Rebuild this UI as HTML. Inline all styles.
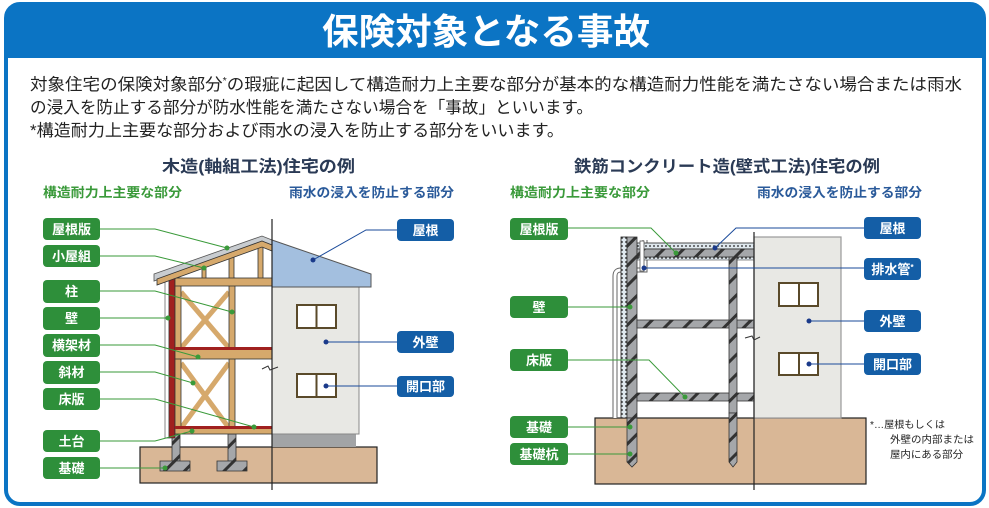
<!DOCTYPE html>
<html><head><meta charset="utf-8"><style>
html,body{margin:0;padding:0;background:#fff}
svg{display:block}
text{font-family:"Liberation Sans","Noto Sans CJK JP",sans-serif}
</style></head><body>
<svg width="989" height="508" viewBox="0 0 989 508" xmlns="http://www.w3.org/2000/svg">
<defs>
<pattern id="hat" width="14" height="14" patternUnits="userSpaceOnUse" patternTransform="rotate(45)">
<rect width="14" height="14" fill="#a5a7aa"/><rect x="0" y="0" width="3" height="14" fill="#333"/></pattern>
<pattern id="ins" width="4" height="4" patternUnits="userSpaceOnUse"><rect width="4" height="4" fill="#dfe8ee"/><circle cx="2" cy="2" r="0.9" fill="#222"/></pattern>
</defs>
<rect x="6" y="4" width="978" height="500" rx="14" fill="#fff" stroke="#0b74c4" stroke-width="4"/>
<path d="M6 58 V18 Q6 4 20 4 H970 Q984 4 984 18 V58 Z" fill="#0b74c4"/>
<text x="322" y="44" font-size="36" font-weight="bold" fill="#fff" textLength="328" lengthAdjust="spacingAndGlyphs">保険対象となる事故</text>
<g font-size="16.5" fill="#222">
<text x="30" y="90" textLength="932" lengthAdjust="spacingAndGlyphs">対象住宅の保険対象部分<tspan font-size="10" dy="-6">*</tspan><tspan dy="6">の瑕疵に起因して構造耐力上主要な部分が基本的な構造耐力性能を満たさない場合または雨水</tspan></text>
<text x="30" y="113" textLength="563" lengthAdjust="spacingAndGlyphs">の浸入を防止する部分が防水性能を満たさない場合を「事故」といいます。</text>
<text x="30" y="136" textLength="534" lengthAdjust="spacingAndGlyphs">*構造耐力上主要な部分および雨水の浸入を防止する部分をいいます。</text>
</g>
<!-- titles -->
<g font-size="16.5" font-weight="bold" fill="#2a3a55">
<text x="162" y="172" textLength="193" lengthAdjust="spacingAndGlyphs">木造(軸組工法)住宅の例</text>
<text x="574" y="172" textLength="306" lengthAdjust="spacingAndGlyphs">鉄筋コンクリート造(壁式工法)住宅の例</text>
</g>
<g font-size="13" font-weight="bold">
<text x="43" y="197" fill="#3a9a3a" textLength="139" lengthAdjust="spacingAndGlyphs">構造耐力上主要な部分</text>
<text x="289" y="197" fill="#2a5a9a" textLength="165" lengthAdjust="spacingAndGlyphs">雨水の浸入を防止する部分</text>
<text x="510" y="197" fill="#3a9a3a" textLength="140" lengthAdjust="spacingAndGlyphs">構造耐力上主要な部分</text>
<text x="757" y="197" fill="#2a5a9a" textLength="165" lengthAdjust="spacingAndGlyphs">雨水の浸入を防止する部分</text>
</g>

<!-- ===== WOOD HOUSE ===== -->
<rect x="140" y="447" width="237" height="36" fill="#d9b796" stroke="#222" stroke-width="1.2"/>
<g fill="url(#hat)" stroke="#333" stroke-width="0.8">
<rect x="172" y="433" width="8" height="28"/><path d="M160 461 H190 V471 H160 Z"/>
<rect x="228" y="433" width="8" height="28"/><path d="M217 461 H247 V471 H217 Z"/>
</g>
<rect x="272" y="434" width="84" height="13" fill="#a2a4a6"/>
<rect x="272" y="286" width="87" height="148" fill="#e8e8e4" stroke="#888" stroke-width="1"/>
<path d="M272 240 L371 274 V287 H272 Z" fill="#a3bfdf" stroke="#555" stroke-width="1"/>
<g fill="#fff" stroke="#5a4a2a" stroke-width="2">
<rect x="297" y="305" width="39" height="23"/><line x1="316.5" y1="305" x2="316.5" y2="328"/>
<rect x="297" y="374" width="39" height="23"/><line x1="316.5" y1="374" x2="316.5" y2="397"/>
</g>
<rect x="165" y="278" width="4" height="160" fill="#fff" stroke="#666" stroke-width="0.8"/>
<rect x="169" y="278" width="6" height="160" fill="#a0201f" stroke="#333" stroke-width="0.6"/>
<g fill="#d6a96c" stroke="#333" stroke-width="0.8">
<line x1="181" y1="292" x2="229" y2="348" stroke="#d6a96c" stroke-width="5"/>
<line x1="229" y1="292" x2="181" y2="348" stroke="#d6a96c" stroke-width="5"/>
<line x1="181" y1="363" x2="229" y2="428" stroke="#d6a96c" stroke-width="5"/>
<line x1="229" y1="363" x2="181" y2="428" stroke="#d6a96c" stroke-width="5"/>
<rect x="175" y="278" width="6" height="156"/>
<rect x="229" y="278" width="6" height="156"/>
<rect x="202" y="262" width="4" height="17"/>
<rect x="258" y="242" width="5" height="37"/>
<rect x="229" y="250" width="5" height="29"/>
<rect x="175" y="278" width="97" height="8"/>
<rect x="175" y="349" width="97" height="10"/>
<rect x="175" y="428" width="97" height="6"/>
</g>
<rect x="175" y="347" width="97" height="3" fill="#a0201f"/>
<rect x="175" y="426" width="97" height="3" fill="#a0201f"/>
<path d="M154 274 L262 236 L272 240 V245 L262 241 L154 281 Z" fill="#c8ccd0" stroke="#555" stroke-width="0.8"/>
<path d="M157 279 L262 241 L272 245 V251 L262 247 L157 285 Z" fill="#d6a96c" stroke="#333" stroke-width="0.8"/>
<line x1="272" y1="219" x2="272" y2="490" stroke="#222" stroke-width="1.2"/>
<path d="M262 369 L268 366 L270 370 L278 367" fill="none" stroke="#333" stroke-width="1"/>

<g stroke="#3a9a3a" stroke-width="1" fill="none">
<polyline points="100,229 155,229 227,248"/>
<polyline points="100,256 155,256 204,268"/>
<polyline points="100,291 155,291 232,312"/>
<polyline points="100,318 168,318"/>
<polyline points="100,345 155,345 198,357"/>
<polyline points="100,372 155,372 193,383"/>
<polyline points="100,399 155,399 254,427"/>
<polyline points="100,441 155,441 192,431"/>
<polyline points="100,468 165,468"/>
</g>
<g fill="#3a9a3a"><circle cx="227" cy="248" r="2.5"/><circle cx="204" cy="268" r="2.5"/><circle cx="232" cy="312" r="2.5"/><circle cx="168" cy="318" r="2.5"/><circle cx="198" cy="357" r="2.5"/><circle cx="193" cy="383" r="2.5"/><circle cx="254" cy="427" r="2.5"/><circle cx="192" cy="431" r="2.5"/><circle cx="165" cy="468" r="2.5"/></g>
<g stroke="#1a4a9a" stroke-width="1" fill="none">
<polyline points="397,230 366,230 313,260"/>
<polyline points="397,342 326,342"/>
<polyline points="397,386 326,386"/>
</g>
<g fill="#1a3a8a"><circle cx="313" cy="260" r="2.5"/><circle cx="326" cy="342" r="2.5"/><circle cx="326" cy="386" r="2.5"/></g>

<!-- ===== RC HOUSE ===== -->
<rect x="595" y="418" width="271" height="66" fill="#d9b796" stroke="#222" stroke-width="1.2"/>
<path d="M645 240 V270 H621 Q615 270 615 276 V418" fill="none" stroke="#666" stroke-width="5"/>
<path d="M645 240 V270 H621 Q615 270 615 276 V418" fill="none" stroke="#fff" stroke-width="3"/>
<rect x="621" y="237" width="6" height="181" fill="url(#ins)" stroke="#222" stroke-width="0.8"/>
<rect x="637" y="243" width="117" height="6" fill="url(#ins)" stroke="#222" stroke-width="0.8"/>
<rect x="637" y="257" width="117" height="3" fill="url(#ins)" stroke="#222" stroke-width="0.5"/>
<g fill="url(#hat)" stroke="#333" stroke-width="0.8">
<path d="M627 237 H637 V418 H627 Z"/>
<rect x="637" y="249" width="117" height="8"/>
<rect x="637" y="320" width="117" height="8"/>
<rect x="637" y="393" width="117" height="8"/>
<path d="M729 257 H737 V413 H729 Z"/>
<path d="M627 418 H637 V462 L632 467 L627 462 Z"/>
<path d="M729 413 H737 V462 L733 467 L729 462 Z"/>
</g>
<rect x="640" y="241" width="4" height="30" fill="#fff" stroke="#555" stroke-width="0.8"/>
<rect x="754" y="237" width="87" height="181" fill="#e8e8e4" stroke="#999" stroke-width="1.2"/>
<g fill="#fff" stroke="#5a4a2a" stroke-width="2">
<rect x="779" y="283" width="39" height="23"/><line x1="799" y1="283" x2="799" y2="306"/>
<rect x="779" y="353" width="39" height="22"/><line x1="799" y1="353" x2="799" y2="375"/>
</g>
<line x1="754" y1="232" x2="754" y2="490" stroke="#222" stroke-width="1.2"/>
<path d="M745 338 L752 336 L754 340 L760 337" fill="none" stroke="#333" stroke-width="1"/>
<g stroke="#3a9a3a" stroke-width="1" fill="none">
<polyline points="568,228 651,228 676,253"/>
<polyline points="568,307 630,307"/>
<polyline points="568,360 649,360 685,397"/>
<polyline points="568,427 630,427"/>
<polyline points="568,454 630,454"/>
</g>
<g fill="#3a9a3a"><circle cx="676" cy="253" r="2.5"/><circle cx="630" cy="307" r="2.5"/><circle cx="685" cy="397" r="2.5"/><circle cx="630" cy="427" r="2.5"/><circle cx="630" cy="454" r="2.5"/></g>
<g stroke="#1a4a9a" stroke-width="1" fill="none">
<polyline points="864,228 736,228 715,248"/>
<polyline points="864,268 644,268"/>
<polyline points="864,321 809,321"/>
<polyline points="864,364 809,364"/>
</g>
<g fill="#1a3a8a"><circle cx="715" cy="248" r="2.5"/><circle cx="644" cy="268" r="2.5"/><circle cx="809" cy="321" r="2.5"/><circle cx="809" cy="364" r="2.5"/></g>
<g font-size="10" fill="#222">
<text x="870" y="428" textLength="75" lengthAdjust="spacingAndGlyphs">*…屋根もしくは</text>
<text x="890" y="443" textLength="84" lengthAdjust="spacingAndGlyphs">外壁の内部または</text>
<text x="890" y="458" textLength="73" lengthAdjust="spacingAndGlyphs">屋内にある部分</text>
</g>

<g font-size="13" font-weight="bold" fill="#fff" text-anchor="middle">
<g fill="#2e8f3a">
<rect x="43" y="218" width="57" height="22" rx="4"/><rect x="43" y="245" width="57" height="22" rx="4"/>
<rect x="43" y="280" width="57" height="23" rx="4"/><rect x="43" y="307" width="57" height="23" rx="4"/>
<rect x="43" y="334" width="57" height="23" rx="4"/><rect x="43" y="361" width="57" height="23" rx="4"/>
<rect x="43" y="388" width="57" height="22" rx="4"/><rect x="43" y="430" width="57" height="22" rx="4"/>
<rect x="43" y="457" width="57" height="22" rx="4"/>
<rect x="510" y="218" width="58" height="22" rx="4"/><rect x="510" y="296" width="58" height="22" rx="4"/>
<rect x="510" y="349" width="58" height="22" rx="4"/><rect x="510" y="416" width="58" height="22" rx="4"/>
<rect x="510" y="443" width="58" height="22" rx="4"/>
</g>
<g fill="#145ea6">
<rect x="397" y="219" width="57" height="22" rx="4"/><rect x="397" y="331" width="57" height="22" rx="4"/>
<rect x="397" y="376" width="57" height="21" rx="4"/>
<rect x="864" y="217" width="57" height="22" rx="4"/><rect x="864" y="258" width="57" height="22" rx="4"/>
<rect x="864" y="310" width="57" height="22" rx="4"/><rect x="864" y="353" width="57" height="22" rx="4"/>
</g>
<text x="71.5" y="234">屋根版</text><text x="71.5" y="261">小屋組</text><text x="71.5" y="296">柱</text>
<text x="71.5" y="323">壁</text><text x="71.5" y="350">横架材</text><text x="71.5" y="377">斜材</text>
<text x="71.5" y="404">床版</text><text x="71.5" y="446">土台</text><text x="71.5" y="473">基礎</text>
<text x="539" y="234">屋根版</text><text x="539" y="312">壁</text><text x="539" y="365">床版</text>
<text x="539" y="432">基礎</text><text x="539" y="459">基礎杭</text>
<text x="425.5" y="235">屋根</text><text x="425.5" y="347">外壁</text><text x="425.5" y="391">開口部</text>
<text x="892.5" y="233">屋根</text><text x="892.5" y="274">排水管<tspan font-size="8" dy="-4">*</tspan></text>
<text x="892.5" y="326">外壁</text><text x="892.5" y="369">開口部</text>
</g>
</svg>
</body></html>
